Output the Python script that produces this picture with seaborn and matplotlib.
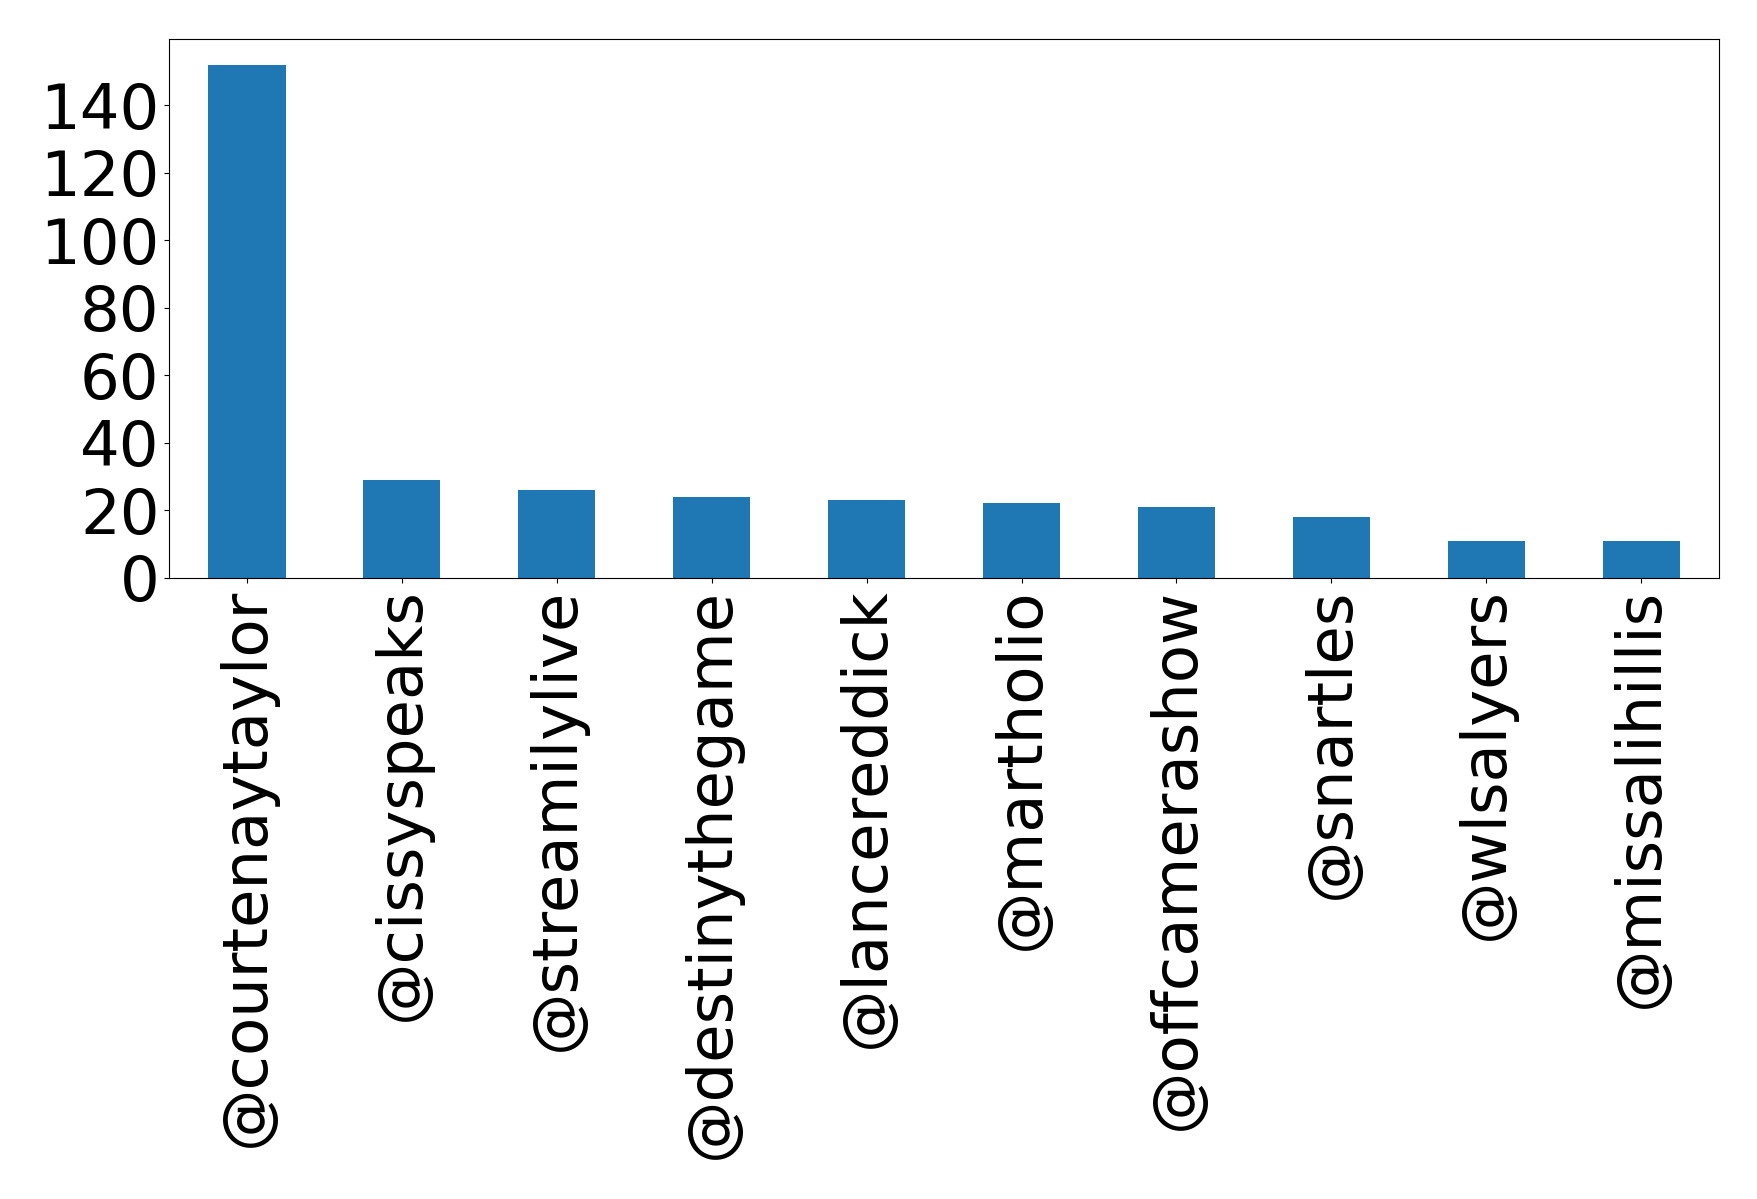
import matplotlib
matplotlib.use("Agg")
import matplotlib.pyplot as plt
import seaborn as sns
import pandas as pd

users = ['@courtenaytaylor', '@cissyspeaks', '@streamilylive', '@destinythegame',
         '@lancereddick', '@martholio', '@offcamerashow', '@snartles',
         '@wlsalyers', '@missalihillis']
counts = [152, 29, 26, 24, 23, 22, 21, 18, 11, 11]

df = pd.DataFrame({'user': users, 'count': counts})

fig, ax = plt.subplots(figsize=(17.58, 11.99), dpi=100)
fig.subplots_adjust(left=0.0963, right=0.9777, top=1 - 0.0327, bottom=1 - 0.4818)

sns.barplot(data=df, x='user', y='count', color='#1f77b4', saturation=1,
            width=0.5, ax=ax)
ax.set_xlim(-0.5, len(users) - 0.5)
ax.set_xlabel('')
ax.set_ylabel('')
ax.set_yticks(range(0, 141, 20))
ax.tick_params(axis='both', labelsize=45)
plt.setp(ax.get_xticklabels(), rotation=90)

fig.savefig('out.png', dpi=100)
